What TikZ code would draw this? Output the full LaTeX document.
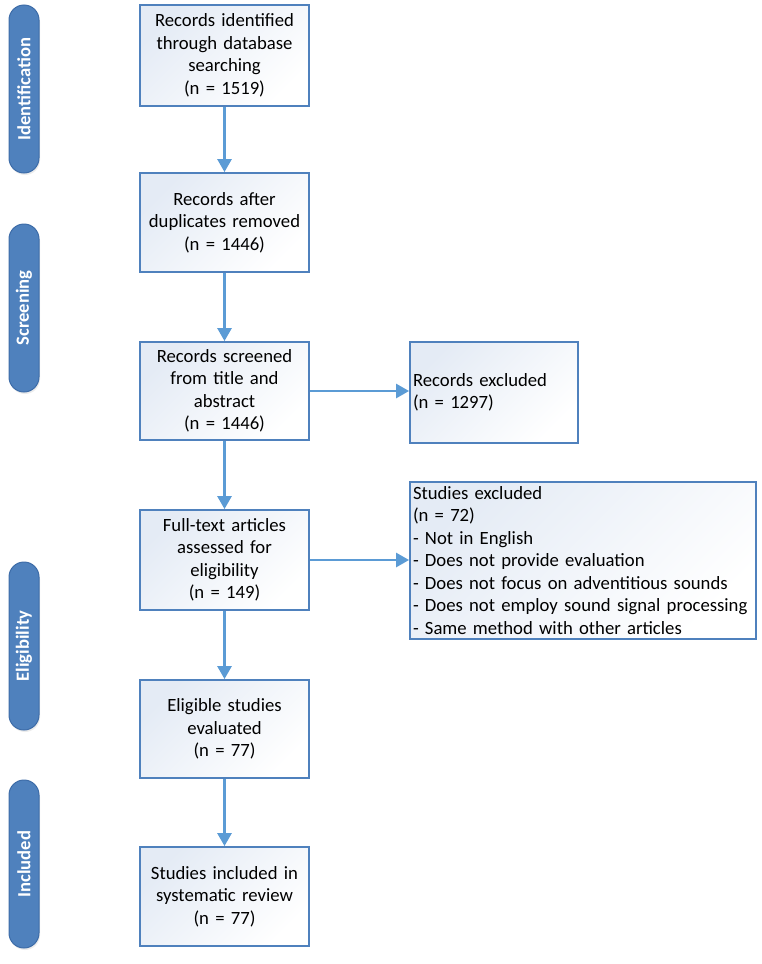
\documentclass[tikz,border=0pt]{standalone}
\usepackage{fontspec}
\setmainfont{Carlito}
\usetikzlibrary{arrows.meta,shadows}
\definecolor{boxline}{HTML}{4F81BD}
\definecolor{arrowc}{HTML}{5B9BD5}
\definecolor{pillfill}{HTML}{4F81BD}
\definecolor{pillline}{HTML}{3D6CA8}
\definecolor{shadec}{HTML}{E4EBF5}
\tikzset{
  mainbox/.style={draw=boxline, line width=1.8pt, top color=shadec, bottom color=white, shading angle=45,
    minimum width=169pt, inner sep=0pt, text width=165pt, align=center,
    font=\fontsize{18.7}{22.5}\selectfont},
  sidebox/.style={draw=boxline, line width=1.8pt, top color=shadec, bottom color=white, shading angle=45,
    inner xsep=3pt, inner ysep=0pt, align=left,
    font=\fontsize{18.7}{22.5}\selectfont},
  pill/.style={draw=pillline, line width=1pt, fill=pillfill, rounded corners=15pt,
    minimum width=30pt, minimum height=168pt, inner sep=0pt},
  pilltext/.style={text=white, rotate=90, font=\fontsize{18.6}{20}\selectfont\bfseries},
  arr/.style={draw=arrowc, line width=2.6pt, -{Triangle[width=14pt,length=13pt]}},
  pshadow/.style={drop shadow={opacity=0.15,shadow xshift=1pt,shadow yshift=-2pt}}
}
\begin{document}
\begin{tikzpicture}[x=1pt,y=-1pt]
\useasboundingbox (0,0) rectangle (761,964);
% phase pills
\node[pill, pshadow] (pid) at (24,89) {};
\node[pilltext] (tid) at (pid.center) {Identification};
\node[pill, pshadow] (psc) at (24,308) {};
\node[pilltext] (tsc) at (psc.center) {Screening};
\node[pill, pshadow] (pel) at (24,646) {};
\node[pilltext] (tel) at (pel.center) {Eligibility};
\node[pill, pshadow] (pin) at (24,864) {};
\node[pilltext] (tin) at (pin.center) {Included};
% main boxes
\node[mainbox, minimum height=101pt] (b1) at (224.5,55.5) {Records identified\\through database\\searching\\(n = 1519)};
\node[mainbox, minimum height=99pt] (b2) at (224.5,222.5) {Records after\\duplicates removed\\(n = 1446)};
\node[mainbox, minimum height=98pt] (b3) at (224.5,391) {Records screened\\from title and\\abstract\\(n = 1446)};
\node[mainbox, minimum height=100pt] (b4) at (224.5,560) {Full-text articles\\assessed for\\eligibility\\(n = 149)};
\node[mainbox, minimum height=98pt] (b5) at (224.5,729) {Eligible studies\\evaluated\\(n = 77)};
\node[mainbox, minimum height=99pt] (b6) at (224.5,896.5) {Studies included in\\systematic review\\(n = 77)};
% side boxes
\node[sidebox, minimum width=168pt, minimum height=101pt, text width=162pt] (s1) at (494,392.5) {Records excluded\\(n = 1297)};
\node[sidebox, minimum width=346pt, minimum height=157pt, text width=340pt] (s2) at (583,560.5) {Studies excluded\\(n = 72)\\- Not in English\\- Does not provide evaluation\\- Does not focus on adventitious sounds\\- Does not employ sound signal processing\\- Same method with other articles};
% arrows
\draw[arr] (b1) -- (b2);
\draw[arr] (b2) -- (b3);
\draw[arr] (b3) -- (b4);
\draw[arr] (b4) -- (b5);
\draw[arr] (b5) -- (b6);
\draw[arr] (b3.east) -- (s1.west |- b3.east);
\draw[arr] (b4.east) -- (s2.west |- b4.east);
\end{tikzpicture}
\end{document}
